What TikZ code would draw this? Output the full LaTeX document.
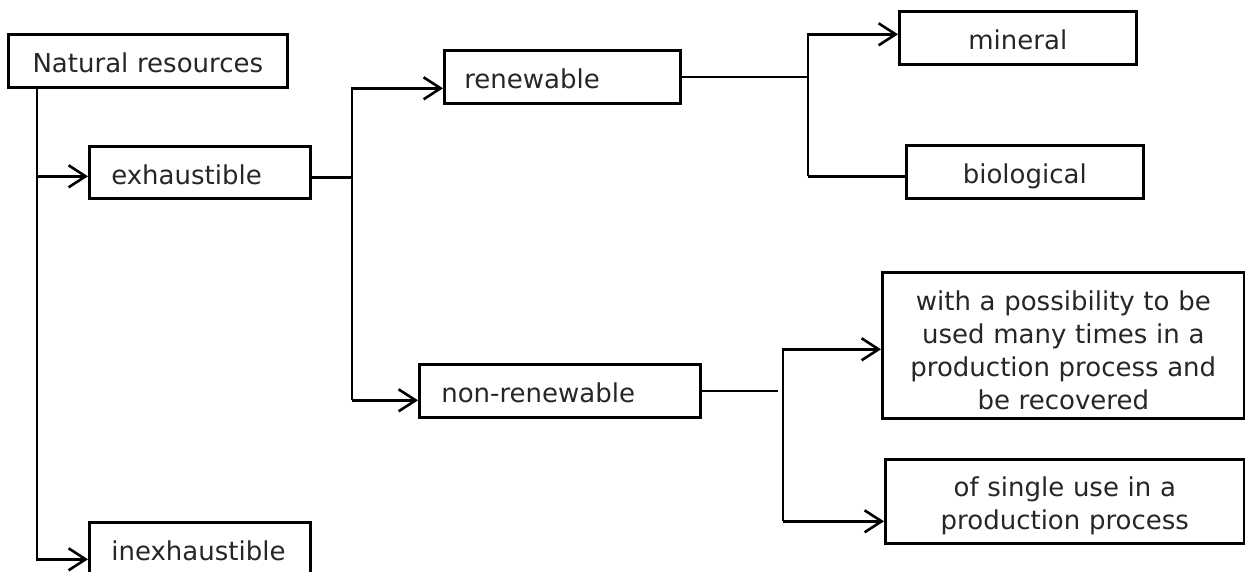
\documentclass[tikz,border=0pt]{standalone}
\usepackage{fontspec}
\newfontfamily\djsans{DejaVu Sans}
\usetikzlibrary{arrows.meta,calc}
\begin{document}
\begin{tikzpicture}[x=1pt,y=-1pt,
  box/.style={draw, line width=2.6pt, anchor=north west, inner xsep=0pt, inner ysep=0pt,
    font=\djsans\fontsize{26}{33}\selectfont, text=black!85},
  cbox/.style={box, align=center},
  lbox/.style={box, align=left},
  one/.style={text height=24pt, text depth=0pt},
  ln/.style={line width=2.6pt},
  arr/.style={line width=2.6pt, -{Straight Barb[length=17pt,width=22pt]}}
]
\clip (0,0) rectangle (1245,571);
% boxes
\node[cbox, one, text width=279pt, minimum height=53pt] (nat) at (7,33) {Natural resources};
\node[lbox, one, text width=221pt, minimum height=52pt] (exh) at (88,145) {\hspace*{22pt}exhaustible};
\node[lbox, one, text width=221pt, minimum height=52pt] (inexh) at (88,521) {\hspace*{22pt}inexhaustible};
\node[lbox, one, text width=236pt, minimum height=53pt] (ren) at (443,49) {\hspace*{20pt}renewable};
\node[lbox, one, text width=281pt, minimum height=53pt] (nonren) at (418,363) {\hspace*{22pt}non-renewable};
\node[cbox, one, text width=237pt, minimum height=53pt] (min) at (898,10) {mineral};
\node[cbox, one, text width=237pt, minimum height=53pt] (bio) at (905,144) {biological};
\node[cbox, text width=362pt, minimum height=146pt] (poss) at (881,271)
  {\rule{0pt}{30pt}with a possibility to be\\used many times in a\\production process and\\be recovered};
\node[cbox, text width=359pt, minimum height=84pt] (single) at (884,458)
  {\rule{0pt}{29pt}of single use in a\\production process};
% junction columns
\coordinate (tr) at (37,0);
\coordinate (sx1) at (352,0);
\coordinate (sx2) at (808,0);
\coordinate (gx3) at (778,0);
\coordinate (sx3) at (783,0);
% trunk from Natural resources
\coordinate (pinexh) at ($(inexh.west)+(0,11)$);
\coordinate (pexh) at ($(exh.west)+(0,4)$);
\draw[arr] (nat.south -| tr) |- (pinexh);
\draw[arr] (pexh -| tr) -- (pexh);
% exhaustible split
\coordinate (qexh) at ($(exh.east)+(0,5)$);
\coordinate (pren) at ($(ren.west)+(0,11.5)$);
\coordinate (pnon) at ($(nonren.west)+(0,9.5)$);
\draw[ln] (qexh) -- (qexh -| sx1);
\draw[arr] (pnon -| sx1) |- (pren);
\draw[arr] (pnon -| sx1) -- (pnon);
% renewable split
\coordinate (pmin) at ($(min.west)+(0,-3.5)$);
\coordinate (pbio) at ($(bio.west)+(0,4.5)$);
\draw[ln] (ren.east) -- (ren.east -| sx2);
\draw[arr] (pbio -| sx2) |- (pmin);
\draw[ln] (pbio -| sx2) -- (pbio);
% non-renewable split
\coordinate (ppos) at ($(poss.west)+(0,4)$);
\coordinate (psgl) at ($(single.west)+(0,20)$);
\draw[ln] (nonren.east) -- (nonren.east -| gx3);
\draw[arr] (psgl -| sx3) |- (ppos);
\draw[arr] (psgl -| sx3) -- (psgl);
\end{tikzpicture}
\end{document}
